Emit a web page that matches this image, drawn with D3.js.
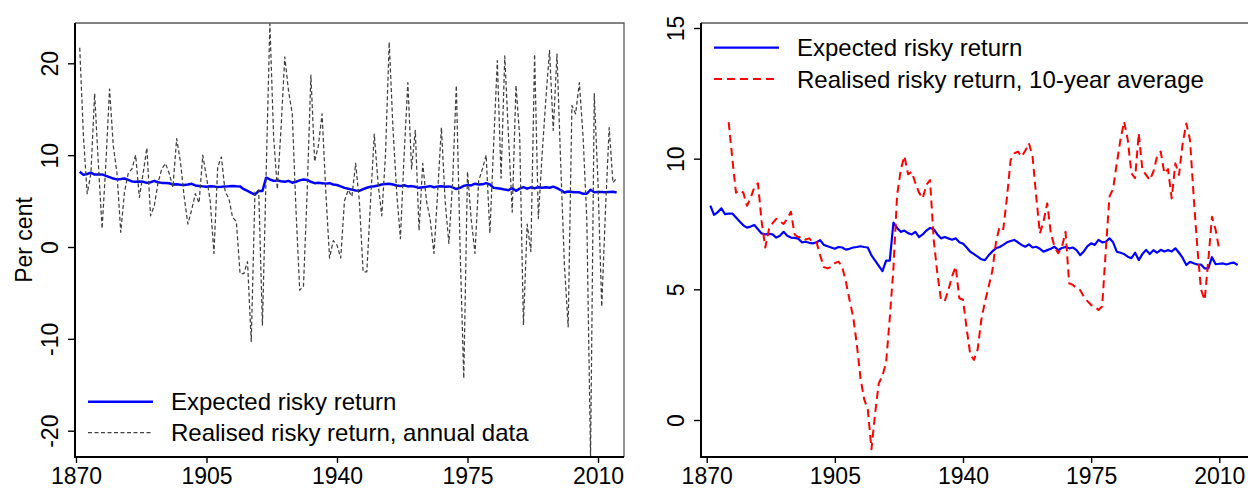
<!DOCTYPE html>
<html>
<head>
<meta charset="utf-8">
<script src="https://cdn.jsdelivr.net/npm/d3@7"></script>
<style>
    body { margin: 0; background: #ffffff; }
    svg { display: block; font-family: "Liberation Sans", Arial, sans-serif; }
</style>
</head>
<body>
<svg id="canvas" width="1248" height="489"></svg>
<script>
/** Expected risky return, annual, 1871-2015 */
const firstYear = 1871;
const expectedReturn = [
    8.20, 7.85, 7.95, 8.10, 7.88, 7.90, 7.90, 7.75, 7.60, 7.45,  // 1871
    7.36, 7.40, 7.46, 7.30, 7.14, 7.10, 7.12, 7.10, 6.98, 7.05,  // 1881
    7.20, 7.05, 6.98, 6.97, 6.94, 6.80, 6.82, 6.78, 6.76, 6.80,  // 1891
    6.88, 6.70, 6.65, 6.60, 6.55, 6.62, 6.60, 6.52, 6.55, 6.60,  // 1901
    6.62, 6.65, 6.62, 6.60, 6.30, 6.10, 5.90, 5.70, 6.10, 6.10,  // 1911
    7.55, 7.35, 7.20, 7.25, 7.15, 7.10, 7.20, 7.00, 7.10, 7.25,  // 1921
    7.35, 7.30, 7.10, 6.95, 7.00, 6.95, 6.90, 6.95, 6.80, 6.75,  // 1931
    6.60, 6.44, 6.35, 6.25, 6.15, 6.12, 6.30, 6.45, 6.57, 6.62,  // 1941
    6.70, 6.80, 6.85, 6.89, 6.80, 6.70, 6.63, 6.72, 6.60, 6.63,  // 1951
    6.55, 6.44, 6.50, 6.55, 6.63, 6.50, 6.58, 6.62, 6.57, 6.60,  // 1961
    6.50, 6.31, 6.45, 6.65, 6.76, 6.70, 6.89, 6.80, 6.82, 6.95,  // 1971
    6.80, 6.44, 6.40, 6.35, 6.25, 6.19, 6.40, 6.12, 6.35, 6.51,  // 1981
    6.35, 6.50, 6.40, 6.51, 6.45, 6.50, 6.45, 6.57, 6.40, 6.20,  // 1991
    5.93, 6.05, 6.00, 5.95, 5.95, 5.80, 5.80, 6.23, 5.96, 5.98,  // 2001
    5.99, 5.95, 6.00, 6.02, 5.93                                 // 2011
];

/** Realised risky return, annual data, 1871-2015 */
const realisedAnnual = [
    21.7, 12.0, 5.8, 8.0, 16.7, 9.0, 2.0, 9.0, 17.2, 11.0,       // 1871
    8.0, 1.6, 6.0, 8.0, 8.5, 10.0, 5.4, 8.0, 10.8, 3.4,          // 1881
    4.5, 7.0, 8.5, 9.1, 8.0, 6.5, 11.8, 9.3, 5.5, 2.5,           // 1891
    4.0, 5.8, 4.8, 10.0, 7.6, 5.0, -0.7, 8.7, 9.8, 6.0,          // 1901
    5.3, 3.2, 2.8, -2.9, -2.9, -1.6, -10.3, 6.0, 6.2, -8.5,      // 1911
    8.0, 24.3, 12.0, 6.3, 13.0, 20.7, 17.0, 14.5, 4.0, -4.7,     // 1921
    -4.3, 6.0, 18.7, 9.3, 11.0, 14.5, 6.0, -1.2, 0.7, 0.2,       // 1931
    -1.2, 5.0, 6.2, 5.5, 9.1, 5.0, -2.7, -2.7, 5.0, 12.3,        // 1941
    7.0, 3.4, 10.0, 22.3, 13.0, 6.0, 0.9, 10.0, 17.9, 8.5,       // 1951
    12.7, 1.8, 9.1, 5.0, 3.0, -0.7, 6.0, 13.0, 5.0, 0.4,         // 1961
    7.0, 17.6, 0.0, -14.3, 8.2, 3.0, -0.7, 7.2, 8.5, 10.0,       // 1971
    1.5, 11.0, 20.3, 7.5, 20.8, 12.0, 3.8, 17.6, 12.0, -8.5,     // 1981
    2.5, -0.5, 21.0, 3.1, 10.0, 16.0, 21.4, 12.7, 21.0, 9.0,     // 1991
    -2.0, -8.7, 15.4, 14.5, 17.9, 12.0, 3.0, -22.9, 16.7, 7.0,   // 2001
    -6.5, 4.0, 13.0, 7.0, 7.5                                    // 2011
];

/** Realised risky return, 10-year average, 1876-2010 */
const tenYearStart = 1876;
const realisedTenYear = [
    11.4, 10.0, 8.7, 8.8, 8.7,                                   // 1876
    8.2, 8.5, 8.9, 9.06, 7.6, 6.6, 7.3, 7.53, 7.7, 7.6,          // 1881
    7.5, 7.7, 7.97, 7.1, 7.0, 7.0, 6.9, 6.95, 6.8, 6.8,          // 1891
    6.3, 5.85, 5.8, 5.86, 6.0, 6.06, 5.86, 5.3, 4.6, 3.95,       // 1901
    2.9, 1.6, 0.8, 0.4, -1.12, 0.26, 1.4, 1.7, 2.2, 3.9,         // 1911
    5.8, 8.6, 9.57, 10.1, 9.4, 9.5, 9.06, 8.7, 8.48, 9.0,        // 1921
    9.18, 6.9, 5.6, 4.59, 4.55, 4.97, 5.5, 5.87, 4.66, 4.6,      // 1931
    3.5, 2.49, 2.3, 2.7, 3.83, 4.53, 5.1, 5.7, 6.8, 7.4,         // 1941
    7.3, 8.5, 9.95, 10.2, 10.27, 10.08, 10.3, 10.59, 10.08, 8.55, // 1951
    7.14, 7.6, 8.29, 7.14, 6.63, 6.38, 6.6, 7.2, 5.23, 5.17,     // 1961
    5.05, 4.97, 4.72, 4.55, 4.4, 4.34, 4.21, 4.34, 6.5, 8.55,    // 1971
    8.85, 9.82, 10.72, 11.42, 10.72, 9.44, 9.25, 10.97, 9.57, 9.38, // 1981
    9.18, 9.5, 10.08, 10.27, 9.44, 9.6, 8.48, 9.82, 9.38, 10.59, // 1991
    11.35, 10.72, 8.55, 6.6, 5.0, 4.59, 6.12, 7.78, 7.27, 6.5    // 2001
];

/** Tick labels */
const yearTicks = [1870, 1905, 1940, 1975, 2010];
const leftTicks = [-20, -10, 0, 10, 20];
const rightTicks = [0, 5, 10, 15];

/** Legend labels */
const leftLegend = ['Expected risky return', 'Realised risky return, annual data'];
const rightLegend = ['Expected risky return', 'Realised risky return, 10-year average'];

/** Select the canvas area */
let canvas = d3.select('#canvas');

canvas.append('rect')
    .attr('width', 1248)
    .attr('height', 489)
    .attr('fill', '#ffffff');

const toPoints = (start, values) => values.map((v, i) => ({ year: start + i, value: v }));

/** Plain hyphen for negatives, as in the original */
const plainNumber = (d) => String(d);

/** Line styles */
const styles = {
    expected: { stroke: '#0000ff', width: 2.5, dash: null },
    annual: { stroke: '#404040', width: 1.25, dash: '4,2.5' },
    tenYear: { stroke: '#ff0000', width: 2, dash: '8,5' }
};

/** Draw one panel */
const drawPanel = (cfg) => {
    let x = d3.scaleLinear().domain([1870, 2010]).range(cfg.xRange);
    let y = d3.scaleLinear().domain(cfg.yDomain).range(cfg.yRange);

    let g = canvas.append('g');

    /** Clip area */
    g.append('clipPath')
        .attr('id', cfg.id + '-clip')
        .append('rect')
        .attr('x', cfg.left)
        .attr('y', cfg.top)
        .attr('width', cfg.right - cfg.left)
        .attr('height', cfg.bottom - cfg.top);

    /** Frame: top and right */
    g.append('path')
        .attr('d', `M${cfg.left},${cfg.top}H${cfg.right}V${cfg.bottom}`)
        .attr('fill', 'none')
        .attr('stroke', '#5a5a5a')
        .attr('stroke-width', 1.3);

    /** Series */
    let line = d3.line()
        .x((d) => x(d.year))
        .y((d) => y(d.value));

    cfg.series.forEach((s) => {
        g.append('path')
            .datum(s.points)
            .attr('clip-path', `url(#${cfg.id}-clip)`)
            .attr('d', line)
            .attr('fill', 'none')
            .attr('stroke', s.style.stroke)
            .attr('stroke-width', s.style.width)
            .attr('stroke-dasharray', s.style.dash)
            .attr('stroke-linejoin', 'round');
    });

    /** Y axis */
    let yAxis = g.append('g')
        .attr('transform', `translate(${cfg.left},0)`)
        .call(d3.axisLeft(y).tickValues(cfg.yTicks).tickSize(7).tickPadding(10).tickFormat(plainNumber));
    yAxis.select('.domain').remove();
    yAxis.selectAll('.tick line').attr('stroke', '#000').attr('stroke-width', 1.4);
    yAxis.selectAll('.tick text')
        .attr('font-size', 23)
        .attr('fill', '#000')
        .attr('font-family', '"Liberation Sans", Arial, sans-serif')
        .attr('text-anchor', 'middle')
        .attr('dy', 0)
        .attr('x', 0)
        .attr('transform', 'translate(-17,0) rotate(-90)');

    /** X axis */
    let xAxis = g.append('g')
        .attr('transform', `translate(0,${cfg.bottom})`)
        .call(d3.axisBottom(x).tickValues(yearTicks).tickSize(6).tickFormat(plainNumber));
    xAxis.select('.domain').remove();
    xAxis.selectAll('.tick line').attr('stroke', '#000').attr('stroke-width', 1.4);
    xAxis.selectAll('.tick text')
        .attr('font-size', 23)
        .attr('fill', '#000')
        .attr('font-family', '"Liberation Sans", Arial, sans-serif')
        .attr('dy', 0)
        .attr('y', 27);

    /** Axis lines (left and bottom) */
    g.append('path')
        .attr('d', `M${cfg.left},${cfg.top}V${cfg.bottom}H${cfg.right}`)
        .attr('fill', 'none')
        .attr('stroke', '#000')
        .attr('stroke-width', 2);

    /** Legend */
    let legend = g.selectAll('.legend-' + cfg.id)
        .data(cfg.series)
        .enter()
        .append('g')
        .attr('transform', (s, i) => `translate(${cfg.legendX},${cfg.legendY + i * cfg.legendStep})`);

    legend.append('line')
        .attr('x1', 0)
        .attr('x2', 65)
        .attr('stroke', (s) => s.style.stroke)
        .attr('stroke-width', (s) => s.style.width)
        .attr('stroke-dasharray', (s) => s.style.dash);

    legend.append('text')
        .attr('x', 83)
        .attr('y', 8.5)
        .attr('font-size', 24)
        .attr('fill', '#000')
        .text((s) => s.label);
};

/** Left panel: annual data */
drawPanel({
    id: 'left',
    left: 75, right: 624, top: 23, bottom: 457,
    xRange: [76, 598],
    yDomain: [-20, 20],
    yRange: [430.7, 63.3],
    yTicks: leftTicks,
    legendX: 88, legendY: 401.7, legendStep: 31,
    series: [
        { label: leftLegend[0], style: styles.expected, points: toPoints(firstYear, expectedReturn) },
        { label: leftLegend[1], style: styles.annual, points: toPoints(firstYear, realisedAnnual) }
    ]
});

/** Right panel: 10-year average */
drawPanel({
    id: 'right',
    left: 701, right: 1252, top: 23, bottom: 457,
    xRange: [706.7, 1219.3],
    yDomain: [0, 15],
    yRange: [420, 28],
    yTicks: rightTicks,
    legendX: 714, legendY: 47.7, legendStep: 31.3,
    series: [
        { label: rightLegend[0], style: { stroke: '#0000ff', width: 2.2, dash: null }, points: toPoints(firstYear, expectedReturn) },
        { label: rightLegend[1], style: styles.tenYear, points: toPoints(tenYearStart, realisedTenYear) }
    ]
});

/** Y axis title */
canvas.append('text')
    .attr('transform', 'translate(32,240) rotate(-90)')
    .attr('text-anchor', 'middle')
    .attr('font-size', 23)
    .attr('fill', '#000')
    .text('Per cent');
</script>
</body>
</html>
